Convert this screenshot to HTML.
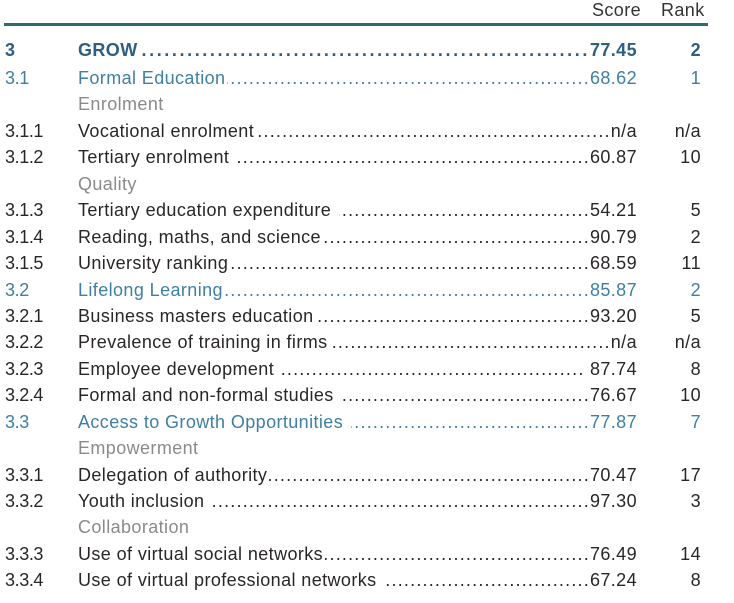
<!DOCTYPE html>
<html>
<head>
<meta charset="utf-8">
<style>
  html, body { margin:0; padding:0; background:#fff; }
  body { width:734px; height:603px; position:relative; overflow:hidden;
         font-family:"Liberation Sans", Arial, sans-serif; font-size:18px; color:#2a2627; letter-spacing:0.4px; }
  .rule { position:absolute; left:4px; top:23px; width:704px; height:2.5px; background:#2f6a72; }
  .hdr { position:absolute; top:-3px; line-height:26.44px; height:26.44px; color:#333; }
  .rows { position:absolute; left:0; top:38.6px; width:734px; }
  .row { position:relative; height:26.44px; line-height:26.44px; white-space:nowrap; }
  .num { position:absolute; left:5px; top:0; letter-spacing:-0.4px; }
  .main { position:absolute; left:78px; width:559px; top:0; display:flex; }
  .lab { flex:none; }
  .dots { flex:1 1 auto; overflow:hidden; direction:rtl; text-align:left; letter-spacing:1.2px; margin-left:2px; }
  .b .dots { letter-spacing:2.6px; }
  .sc { flex:none; }
  .rk { position:absolute; right:33px; top:0; text-align:right; }
  .b { color:#2d5f80; font-weight:bold; }
  .s { color:#3f7fa2; }
  .g { color:#8a8a8a; }
</style>
</head>
<body>
<div class="hdr" style="left:592px;">Score</div>
<div class="hdr" style="left:661px;">Rank</div>
<div class="rule"></div>

<div class="rows">
  <div class="row b" style="top:-2px;"><span class="num">3</span><div class="main"><span class="lab">GROW</span><span class="dots">..................................................................................................................</span><span class="sc">77.45</span></div><span class="rk">2</span></div>

  <div class="row s"><span class="num">3.1</span><div class="main"><span class="lab">Formal Education</span><span class="dots">..................................................................................................................</span><span class="sc">68.62</span></div><span class="rk">1</span></div>

  <div class="row g"><div class="main"><span class="lab">Enrolment</span></div></div>

  <div class="row"><span class="num">3.1.1</span><div class="main"><span class="lab">Vocational enrolment</span><span class="dots">..................................................................................................................</span><span class="sc">n/a</span></div><span class="rk">n/a</span></div>

  <div class="row"><span class="num">3.1.2</span><div class="main"><span class="lab">Tertiary enrolment&nbsp;</span><span class="dots">..................................................................................................................</span><span class="sc">60.87</span></div><span class="rk">10</span></div>

  <div class="row g"><div class="main"><span class="lab">Quality</span></div></div>

  <div class="row"><span class="num">3.1.3</span><div class="main"><span class="lab">Tertiary education expenditure&nbsp;</span><span class="dots">..................................................................................................................</span><span class="sc">54.21</span></div><span class="rk">5</span></div>

  <div class="row"><span class="num">3.1.4</span><div class="main"><span class="lab">Reading, maths, and science</span><span class="dots">..................................................................................................................</span><span class="sc">90.79</span></div><span class="rk">2</span></div>

  <div class="row"><span class="num">3.1.5</span><div class="main"><span class="lab">University ranking</span><span class="dots">..................................................................................................................</span><span class="sc">68.59</span></div><span class="rk">11</span></div>

  <div class="row s"><span class="num">3.2</span><div class="main"><span class="lab">Lifelong Learning</span><span class="dots">..................................................................................................................</span><span class="sc">85.87</span></div><span class="rk">2</span></div>

  <div class="row"><span class="num">3.2.1</span><div class="main"><span class="lab">Business masters education</span><span class="dots">..................................................................................................................</span><span class="sc">93.20</span></div><span class="rk">5</span></div>

  <div class="row"><span class="num">3.2.2</span><div class="main"><span class="lab">Prevalence of training in firms</span><span class="dots">..................................................................................................................</span><span class="sc">n/a</span></div><span class="rk">n/a</span></div>

  <div class="row"><span class="num">3.2.3</span><div class="main"><span class="lab">Employee development&nbsp;</span><span class="dots">..................................................................................................................</span><span class="sc">&nbsp;87.74</span></div><span class="rk">8</span></div>

  <div class="row"><span class="num">3.2.4</span><div class="main"><span class="lab">Formal and non-formal studies&nbsp;</span><span class="dots">..................................................................................................................</span><span class="sc">76.67</span></div><span class="rk">10</span></div>

  <div class="row s"><span class="num">3.3</span><div class="main"><span class="lab">Access to Growth Opportunities&nbsp;</span><span class="dots">..................................................................................................................</span><span class="sc">77.87</span></div><span class="rk">7</span></div>

  <div class="row g"><div class="main"><span class="lab">Empowerment</span></div></div>

  <div class="row"><span class="num">3.3.1</span><div class="main"><span class="lab">Delegation of authority</span><span class="dots">..................................................................................................................</span><span class="sc">70.47</span></div><span class="rk">17</span></div>

  <div class="row"><span class="num">3.3.2</span><div class="main"><span class="lab">Youth inclusion&nbsp;</span><span class="dots">..................................................................................................................</span><span class="sc">97.30</span></div><span class="rk">3</span></div>

  <div class="row g"><div class="main"><span class="lab">Collaboration</span></div></div>

  <div class="row"><span class="num">3.3.3</span><div class="main"><span class="lab">Use of virtual social networks</span><span class="dots">..................................................................................................................</span><span class="sc">76.49</span></div><span class="rk">14</span></div>

  <div class="row"><span class="num">3.3.4</span><div class="main"><span class="lab">Use of virtual professional networks&nbsp;</span><span class="dots">..................................................................................................................</span><span class="sc">67.24</span></div><span class="rk">8</span></div>
</div>
</body>
</html>
